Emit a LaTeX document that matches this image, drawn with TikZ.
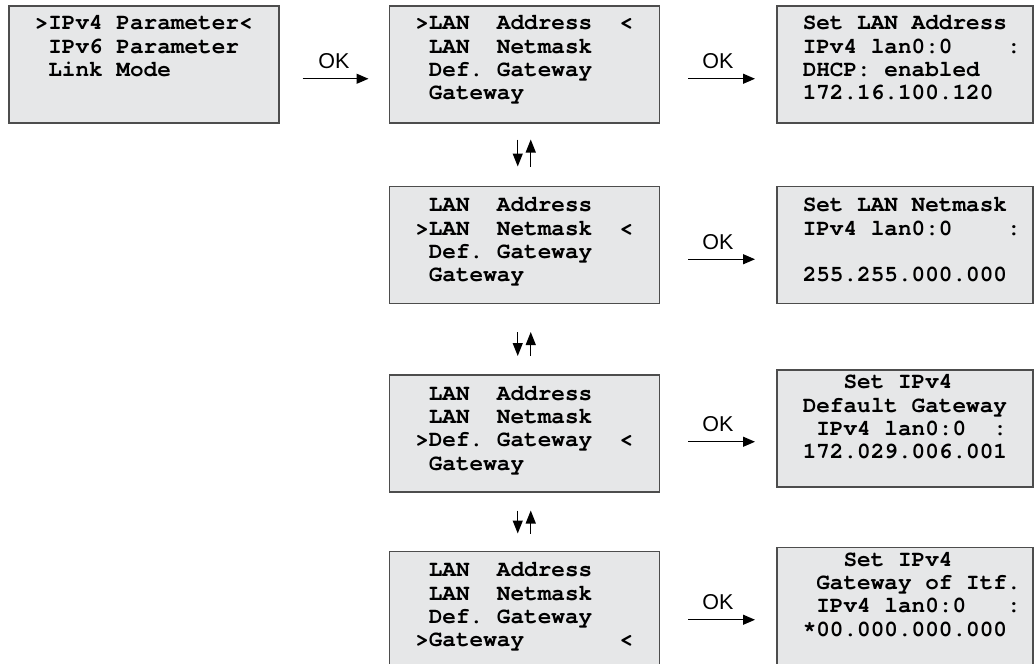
\documentclass[tikz,border=0pt]{standalone}
\usepackage{fontspec}
\usetikzlibrary{arrows.meta,positioning}
\newfontfamily\lcdfont{texgyrecursor}[Extension=.otf,UprightFont=*-regular,BoldFont=*-bold]
\newfontfamily\okfont{Liberation Sans}
\definecolor{lcdbg}{HTML}{E6E7E8}
\definecolor{frame}{HTML}{4D4D4D}
\hyphenpenalty=10000
% one LCD cell is 0.6em wide
\newcommand{\lcdgap}[1]{\leavevmode\kern#1\dimexpr0.6em\relax}
\tikzset{
  lcd/.style={draw=frame,line width=1.5pt,fill=lcdbg,minimum height=117pt,inner xsep=26pt,inner ysep=0pt,align=left,
    text height=0pt,text depth=#1,font=\lcdfont\bfseries\fontsize{22.7}{23.3}\selectfont},
  lcd/.default=66pt,
  menu/.style={lcd=#1,text width=218pt},
  menu/.default=66pt,
  disp/.style={lcd=#1,text width=204pt},
  disp/.default=66pt,
  okar/.style={-{Triangle[length=12pt,width=10pt]},line width=1.2pt},
  udar/.style={-{Triangle[length=13pt,width=10pt]},line width=1.2pt},
  ok/.style={above=7pt,inner sep=2pt,font=\okfont\fontsize{21.5}{24}\selectfont},
}

\begin{document}
\begin{tikzpicture}
  \useasboundingbox (0,0) rectangle (1034pt,-664pt);
  \node[menu=69pt, anchor=north west] (b1) at (8pt,-5pt)
    {>IPv4\lcdgap1Parameter<\\\lcdgap1IPv6\lcdgap1Parameter\\\lcdgap1Link\lcdgap1Mode\\\mbox{}};
  \node[menu=69pt, right=109pt of b1] (m1)
    {>LAN\lcdgap2Address\lcdgap2<\\\lcdgap1LAN\lcdgap2Netmask\\\lcdgap1Def.\lcdgap1Gateway\\\lcdgap1Gateway};
  \node[menu, below=62pt of m1] (m2)
    {\lcdgap1LAN\lcdgap2Address\\>LAN\lcdgap2Netmask\lcdgap2<\\\lcdgap1Def.\lcdgap1Gateway\\\lcdgap1Gateway};
  \node[menu, below=70pt of m2] (m3)
    {\lcdgap1LAN\lcdgap2Address\\\lcdgap1LAN\lcdgap2Netmask\\>Def.\lcdgap1Gateway\lcdgap2<\\\lcdgap1Gateway};
  \node[menu, below=58pt of m3] (m4)
    {\lcdgap1LAN\lcdgap2Address\\\lcdgap1LAN\lcdgap2Netmask\\\lcdgap1Def.\lcdgap1Gateway\\>Gateway\lcdgap7<};
  \node[disp=69pt, right=116pt of m1] (r1)
    {Set\lcdgap1LAN\lcdgap1Address\\IPv4\lcdgap1lan0:0\lcdgap4:\\DHCP:\lcdgap1enabled\\172.16.100.120};
  \node[disp, right=116pt of m2] (r2)
    {Set\lcdgap1LAN\lcdgap1Netmask\\IPv4\lcdgap1lan0:0\lcdgap4:\\\mbox{}\\255.255.000.000};
  \node[disp=79pt, right=116pt of m3, yshift=5pt] (r3)
    {\lcdgap3Set\lcdgap1IPv4\\Default\lcdgap1Gateway\\\lcdgap1IPv4\lcdgap1lan0:0\lcdgap2:\\172.029.006.001};
  \node[disp=79pt, right=116pt of m4, yshift=4pt] (r4)
    {\lcdgap3Set\lcdgap1IPv4\\\lcdgap1Gateway\lcdgap1of\lcdgap1Itf.\\\lcdgap1IPv4\lcdgap1lan0:0\lcdgap3:\\{*}00.000.000.000};
  % OK arrows
  \draw[okar, shorten <=23pt, shorten >=20pt] ([yshift=-14.5pt]b1.east) -- node[ok]{OK} ([yshift=-14.5pt]m1.west);
  \foreach \m/\r/\d in {m1/r1/-14.5, m2/r2/-14.5, m3/r3/-8.5, m4/r4/-10} {
    \path ([yshift=\d pt]\m.east) coordinate (s\m);
    \draw[okar, shorten <=28pt, shorten >=21pt] (s\m) -- node[ok]{OK} (s\m -| \r.west);
  }
  % up/down arrows
  \foreach \a/\b/\s/\t in {m1/m2/16/19, m2/m3/28/18, m3/m4/18/17} {
    \draw[udar, shorten <=\s pt, shorten >=\t pt] ([xshift=-6.5pt]\a.south) -- ([xshift=-6.5pt]\b.north);
    \draw[udar, shorten <=\t pt, shorten >=\s pt] ([xshift=6.5pt]\b.north) -- ([xshift=6.5pt]\a.south);
  }
\end{tikzpicture}
\end{document}
